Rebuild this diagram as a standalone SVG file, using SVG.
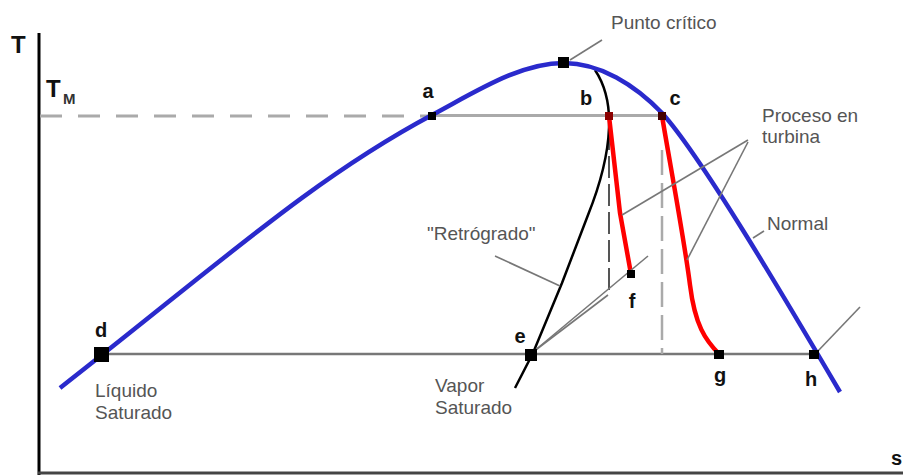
<svg xmlns="http://www.w3.org/2000/svg" width="903" height="475" viewBox="0 0 903 475">
<style>
.lbl{font-family:"Liberation Sans",Arial,sans-serif;font-size:20px;font-weight:bold;fill:#111}
.ann{font-family:"Liberation Sans",Arial,sans-serif;font-size:19px;fill:#555}
.lead{stroke:#777;stroke-width:1.6;fill:none}
.pt{fill:#000}
</style>
<rect width="903" height="475" fill="#fff"/>
<g id="axes">
<line x1="39" y1="33" x2="39" y2="475" stroke="#000" stroke-width="3"/>
<line x1="38" y1="473" x2="903" y2="473" stroke="#444" stroke-width="3"/>
<text class="lbl" x="11" y="53" style="font-size:24px">T</text>
<text class="lbl" x="891" y="465">s</text>
<text class="lbl" x="46" y="97" style="font-size:24px">T</text>
<text class="lbl" x="63" y="104" style="font-size:15px;fill:#333">M</text>
</g>
<g id="connectors">
<line x1="40" y1="116" x2="430" y2="116" stroke="#aaa" stroke-width="3" stroke-dasharray="22 16"/>
<line x1="430" y1="115.5" x2="663" y2="115.5" stroke="#aaa" stroke-width="3"/>
<line x1="101" y1="354" x2="815" y2="354" stroke="#777" stroke-width="2.5"/>
<line x1="609" y1="128" x2="609" y2="296" stroke="#555" stroke-width="2" stroke-dasharray="22 6"/>
<line x1="662" y1="150" x2="662" y2="354" stroke="#aaa" stroke-width="2.5" stroke-dasharray="25 8"/>
<path id="retro" d="M595,70 C605,85 610,105 609,128 C608,155 600,185 588,215 L562,283 L533,353 L515,388" stroke="#000" stroke-width="2.5" fill="none"/>
<path id="blue" d="M60,388 C220,263 312,179 432,115 C477,91 520,63 564,63 C600,63 635,85 662,113 C700,155 780,290 840,392" stroke="#2a2acc" stroke-width="4.5" fill="none"/>
<path id="red1" d="M609,116 L620,213 L631,274" stroke="#f00" stroke-width="4.5" fill="none"/>
<path id="red2" d="M662,116 C672,175 685,245 690,285 C695,325 705,340 720,355" stroke="#f00" stroke-width="4.5" fill="none"/>
<line class="lead" x1="570" y1="60" x2="602" y2="40"/>
<line class="lead" x1="748" y1="140" x2="622" y2="215"/>
<line class="lead" x1="748" y1="142" x2="687" y2="260"/>
<line class="lead" x1="764" y1="231" x2="753" y2="238"/>
<line class="lead" x1="495" y1="256" x2="560" y2="286"/>
<line class="lead" x1="533" y1="352" x2="608" y2="295"/>
<line class="lead" x1="533" y1="352" x2="648" y2="256"/>
<line class="lead" x1="817" y1="352" x2="860" y2="307"/>
</g>
<g id="node-critico">
<rect class="pt" x="558" y="57" width="11" height="11"/>
<text class="ann" x="611" y="29">Punto crítico</text>
</g>
<g id="node-a">
<rect class="pt" x="428" y="112" width="8" height="8"/>
<text class="lbl" x="428" y="98" text-anchor="middle">a</text>
</g>
<g id="node-b">
<rect x="605" y="112" width="8" height="8" fill="#8b0000"/>
<text class="lbl" x="586" y="105" text-anchor="middle">b</text>
</g>
<g id="node-c">
<rect x="658" y="112" width="8" height="8" fill="#400"/>
<text class="lbl" x="675" y="105" text-anchor="middle">c</text>
</g>
<g id="node-d">
<rect class="pt" x="94" y="347" width="15" height="15"/>
<text class="lbl" x="101" y="337" text-anchor="middle">d</text>
<text class="ann" x="95" y="397">Líquido</text>
<text class="ann" x="95" y="419">Saturado</text>
</g>
<g id="node-e">
<rect class="pt" x="525" y="349" width="12" height="12"/>
<text class="lbl" x="520" y="343" text-anchor="middle">e</text>
<text class="ann" x="435" y="392">Vapor</text>
<text class="ann" x="435" y="414">Saturado</text>
</g>
<g id="node-f">
<rect class="pt" x="627" y="270" width="8" height="8"/>
<text class="lbl" x="632" y="308" text-anchor="middle">f</text>
</g>
<g id="node-g">
<rect class="pt" x="714" y="350" width="10" height="9"/>
<text class="lbl" x="720" y="382" text-anchor="middle">g</text>
</g>
<g id="node-h">
<rect class="pt" x="809" y="350" width="10" height="9"/>
<text class="lbl" x="811" y="386" text-anchor="middle">h</text>
</g>
<g id="node-labels">
<text class="ann" x="762" y="122">Proceso en</text>
<text class="ann" x="762" y="143">turbina</text>
<text class="ann" x="767" y="230">Normal</text>
<text class="ann" x="427" y="240">"Retrógrado"</text>
</g>
</svg>
